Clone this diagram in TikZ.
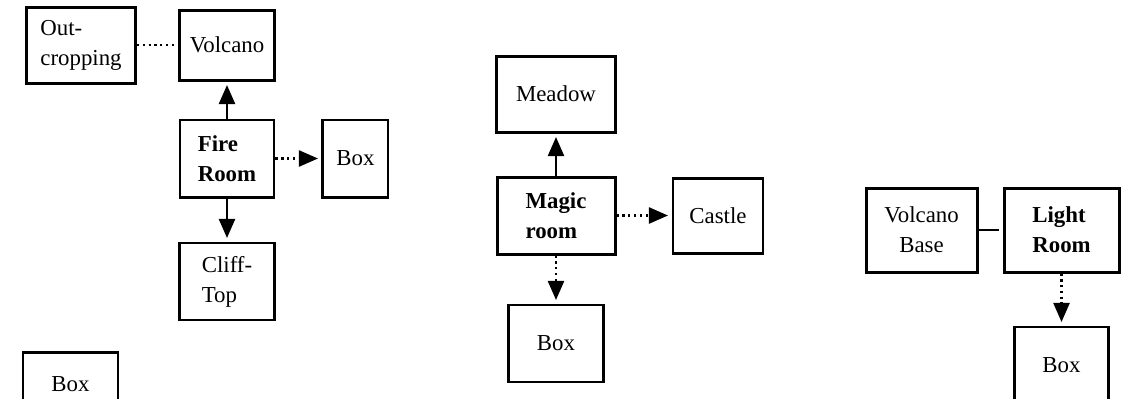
\documentclass[tikz,border=0pt]{standalone}
\usepackage{fontspec}
\setmainfont{Liberation Serif}
\usetikzlibrary{positioning,arrows.meta}

\begin{document}
\begin{tikzpicture}[->, >={Triangle[length=0.38cm, width=0.32cm]}, room/.style = {draw, line width=1.7pt, minimum height=1.54cm, inner sep=2pt, align=left, font=\fontsize{13}{17}\selectfont}, bold/.style = {font=\fontsize{13}{17}\selectfont\bfseries}, every edge/.append style={line width=1.3pt, shorten >=2pt}]

\useasboundingbox (0,0) rectangle (22.44,-7.96);

% fire room and its exits
\node[room, bold, minimum width=1.88cm] (fire) at (4.54,-3.17) {Fire\\Room};
\node[room, minimum width=1.9cm, minimum height=1.4cm] (volcano) [above=0.74cm of fire] {Volcano};
\node[room, minimum width=2.18cm, minimum height=1.52cm] (outcrop) [left=0.82cm of volcano] {Out-\\cropping};
\node[room, minimum width=1.3cm] (box1) [right=0.92cm of fire] {Box};
\node[room, minimum width=1.9cm] (cliff) [below=0.86cm of fire] {Cliff-\\Top};
\node[room, minimum width=1.9cm, minimum height=1.3cm] (box0) at (1.41,-7.69) {Box};

\path (outcrop) edge[dotted,-] (volcano);
\path (fire) edge (volcano);
\path (fire) edge[dotted] (box1);
\path (fire) edge (cliff);

% magic room
\node[room, bold, minimum width=2.36cm] (magic) at (11.12,-4.31) {Magic\\room};
\node[room, minimum width=2.38cm, minimum height=1.52cm] (meadow) [above=0.84cm of magic] {Meadow};
\node[room, minimum width=1.8cm, minimum height=1.5cm] (castle) [right=1.1cm of magic] {Castle};
\node[room, minimum width=1.9cm] (box2) [below=0.96cm of magic] {Box};

\path (magic) edge (meadow);
\path (magic) edge[dotted] (castle);
\path (magic) edge[dotted] (box2);

% light room
\node[room, bold, minimum width=2.3cm, minimum height=1.68cm] (light) at (21.23,-4.6) {Light\\Room};
\node[room, align=center, minimum width=2.22cm, minimum height=1.68cm] (vbase) [left=0.48cm of light] {Volcano\\Base};
\node[room, minimum width=1.88cm] (box3) [below=1.04cm of light] {Box};

\path (vbase) edge[-] (light);
\path (light) edge[dotted] (box3);
\end{tikzpicture}
\end{document}
